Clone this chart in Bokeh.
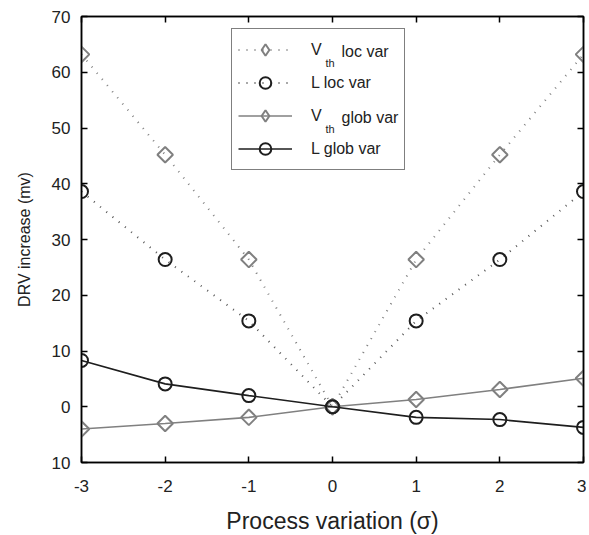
import math
from bokeh.plotting import figure
from bokeh.models import (LinearAxis, Legend, LegendItem, Label, FixedTicker,
                          Range1d)
from bokeh.embed import file_html
from bokeh.resources import INLINE

# ---- data ----
sigma = [-3, -2, -1, 0, 1, 2, 3]
vth_loc = [63.2, 45.2, 26.4, 0.0, 26.4, 45.2, 63.2]
l_loc = [38.6, 26.4, 15.4, 0.0, 15.4, 26.4, 38.6]
vth_glob = [-4.0, -3.0, -1.9, 0.0, 1.3, 3.1, 5.1]
l_glob = [8.3, 4.1, 2.0, 0.0, -1.9, -2.3, -3.7]

x_ticks = [-3, -2, -1, 0, 1, 2, 3]
x_tick_labels = ["-3", "-2", "-1", "0", "1", "2", "3"]
y_ticks = [-10, 0, 10, 20, 30, 40, 50, 60, 70]
y_tick_labels = ["10", "0", "10", "20", "30", "40", "50", "60", "70"]

series_names = ["V", "L loc var", "V", "L glob var"]
series_suffix = ["loc var", None, "glob var", None]

FONT = "Liberation Sans"
TXT = "#222222"
GRAY = "#808080"
DARK = "#1e1e1e"
X0, X1, Y0, Y1 = -3, 3, -10, 70
FW, FH = 502, 446

p = figure(x_range=Range1d(X0, X1), y_range=Range1d(Y0, Y1),
           frame_width=FW, frame_height=FH,
           min_border_left=81, min_border_right=3, min_border_top=16,
           min_border_bottom=71,
           output_backend="svg", toolbar_location=None,
           x_axis_label="Process variation (σ)",
           y_axis_label="DRV increase (mv)")
p.xgrid.visible = False
p.ygrid.visible = False
p.outline_line_color = "black"
p.outline_line_width = 1.5
p.background_fill_color = "white"
p.border_fill_color = "white"

for ax in (p.xaxis[0], p.yaxis[0]):
    ax.major_tick_in = 6
    ax.major_tick_out = 0
    ax.minor_tick_line_color = None
    ax.axis_line_width = 1.5
    ax.major_tick_line_width = 1.5
    ax.major_label_text_font = FONT
    ax.major_label_text_font_size = "17px"
    ax.major_label_text_color = TXT
    ax.axis_label_text_font = FONT
    ax.axis_label_text_font_style = "normal"
    ax.axis_label_text_color = TXT

p.xaxis[0].ticker = FixedTicker(ticks=x_ticks)
p.xaxis[0].major_label_overrides = {t: s for t, s in zip(x_ticks, x_tick_labels)}
p.yaxis[0].ticker = FixedTicker(ticks=y_ticks)
p.yaxis[0].major_label_overrides = {t: s for t, s in zip(y_ticks, y_tick_labels)}
p.xaxis[0].major_label_standoff = 17
p.xaxis[0].axis_label_standoff = 13
p.xaxis[0].axis_label_text_font_size = "23px"
p.yaxis[0].major_label_standoff = 11
p.yaxis[0].axis_label_standoff = 16
p.yaxis[0].axis_label_text_font_size = "16px"

# mirrored ticks on top and right (no labels)
mirror = dict(major_tick_in=6, major_tick_out=0, minor_tick_line_color=None,
              major_label_text_color=None, major_label_text_font_size="1px",
              major_label_standoff=0, axis_line_width=1.5,
              major_tick_line_width=1.5)
top = LinearAxis(ticker=FixedTicker(ticks=x_ticks), **mirror)
right = LinearAxis(ticker=FixedTicker(ticks=y_ticks), **mirror)
p.add_layout(top, "above")
p.add_layout(right, "right")

# ---- series ----
DIA = dict(marker="square", angle=math.pi / 4, size=11, fill_color=None,
           line_color=GRAY, line_width=2)
CIR = dict(marker="circle", size=13, fill_color=None, line_color=DARK,
           line_width=2)
r1l = p.line(sigma, vth_loc, line_color=GRAY, line_width=2, line_dash="1 7")
r1m = p.scatter(sigma, vth_loc, **DIA)
r2l = p.line(sigma, l_loc, line_color="#555555", line_width=2, line_dash="1 7")
r2m = p.scatter(sigma, l_loc, **CIR)
r3l = p.line(sigma, vth_glob, line_color=GRAY, line_width=1.6)
r3m = p.scatter(sigma, vth_glob, **DIA)
r4l = p.line(sigma, l_glob, line_color=DARK, line_width=1.6)
r4m = p.scatter(sigma, l_glob, **CIR)

# legend helper marker for the diamonds (legend ignores marker angle);
# its single NaN point is never drawn in the plot area
nan = float("nan")
dia_proxy = p.scatter([nan], [nan], marker="diamond", size=19,
                      fill_color=None, line_color=GRAY, line_width=2)

rends = [(r1l, dia_proxy), (r2l, r2m), (r3l, dia_proxy), (r4l, r4m)]
items = [LegendItem(label=n, renderers=list(r)) for n, r in zip(series_names, rends)]

PAD, ROW, SP = 6, 29, 4
LEG_X, LEG_Y = 150, 292
legend = Legend(items=items, location=(LEG_X, LEG_Y),
                padding=PAD, spacing=SP, glyph_height=ROW, label_height=ROW,
                glyph_width=54, label_standoff=19, label_width=87,
                border_line_color="black", border_line_width=1.5,
                background_fill_alpha=0,
                label_text_font=FONT, label_text_font_size="16px",
                label_text_color=TXT, margin=0)
p.add_layout(legend)


def sx2d(sx):
    return X0 + sx * (X1 - X0) / FW


def sy2d(sy):
    return Y0 + sy * (Y1 - Y0) / FH


# subscripts and continuation text of the V_th entries
legend_top_from_bottom = LEG_Y + 2 * PAD + 4 * ROW + 3 * SP
for i, suf in enumerate(series_suffix):
    if suf is None:
        continue
    cy = legend_top_from_bottom - PAD - i * (ROW + SP) - ROW / 2
    p.add_layout(Label(x=sx2d(244), y=sy2d(cy - 12),
                       text="th", text_font=FONT, text_font_size="11px",
                       text_color=TXT, text_baseline="middle",
                       text_align="left", level="overlay"))
    p.add_layout(Label(x=sx2d(260), y=sy2d(cy),
                       text=suf, text_font=FONT, text_font_size="16px",
                       text_color=TXT, text_baseline="middle",
                       text_align="left", level="overlay"))

open("out.html", "w").write(file_html(p, INLINE))
